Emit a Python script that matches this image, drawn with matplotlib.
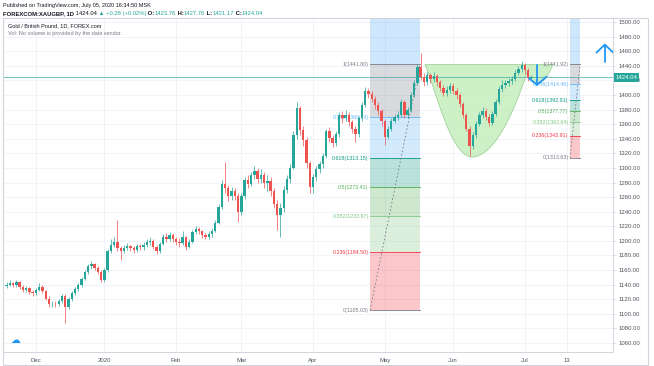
import numpy as np
import matplotlib
matplotlib.use("Agg")
import matplotlib.pyplot as plt
from matplotlib.path import Path
from matplotlib.patches import PathPatch, Rectangle
import matplotlib.transforms as mtransforms

W, H = 654, 366
plt.rcParams['font.family'] = ['Liberation Sans', 'DejaVu Sans']

# ---- daily candles XAUGBP, bar index 0 = 2 Dec 2019 ----
first_idx = -9
first_open = 1138.0
closes = [1140, 1142, 1139, 1143, 1137, 1133, 1135, 1130, 1128,
          1133, 1137, 1131, 1121, 1113, 1114, 1113, 1117, 1124, 1109,
          1120, 1128, 1134, 1139, 1148, 1157, 1165, 1168, 1163, 1158, 1146,
          1160, 1186, 1195, 1198, 1190, 1186, 1190, 1193, 1190, 1188,
          1193, 1191, 1194, 1198, 1200, 1192, 1186, 1196, 1206, 1203,
          1208, 1203, 1199, 1197, 1205, 1192, 1199, 1212, 1216, 1213,
          1208, 1206, 1209, 1214, 1225, 1246, 1278, 1272, 1262, 1268,
          1262, 1240, 1262, 1283, 1278, 1290, 1296, 1285, 1290, 1280,
          1282, 1268, 1250, 1236, 1245, 1270, 1285, 1300, 1345, 1382,
          1352, 1338, 1307, 1274, 1287, 1298, 1305, 1316, 1350, 1341,
          1334, 1346, 1372, 1369, 1373, 1363, 1353, 1346, 1368, 1386,
          1406, 1402, 1395, 1386, 1378, 1364, 1342, 1354, 1365, 1370,
          1373, 1390, 1372, 1379, 1400, 1416, 1438, 1425, 1418, 1427,
          1422, 1426, 1418, 1410, 1403, 1407, 1412, 1406, 1400, 1388,
          1372, 1354, 1330, 1345, 1360, 1372, 1378, 1370, 1362, 1374,
          1390, 1408, 1414, 1416, 1419, 1422, 1430, 1436, 1441, 1434,
          1423.76, 1424.04]
highs = [1143, 1146, 1144, 1147, 1145, 1139, 1138, 1137, 1133,
         1136, 1142, 1139, 1133, 1124, 1117, 1117, 1120, 1127, 1127,
         1123, 1131, 1137, 1142, 1151, 1160, 1168, 1172, 1170, 1166, 1160,
         1163, 1189, 1202, 1206, 1228, 1193, 1194, 1197, 1195, 1193,
         1196, 1196, 1198, 1202, 1205, 1202, 1195, 1199, 1210, 1211,
         1212, 1211, 1206, 1204, 1214, 1207, 1202, 1215, 1220, 1219,
         1215, 1211, 1213, 1218, 1229, 1250, 1283, 1308, 1276, 1274,
         1272, 1265, 1266, 1287, 1290, 1295, 1303, 1300, 1298, 1295,
         1290, 1287, 1272, 1256, 1252, 1275, 1290, 1305, 1350, 1390,
         1385, 1358, 1342, 1310, 1292, 1303, 1310, 1321, 1354, 1356,
         1345, 1350, 1376, 1378, 1379, 1376, 1366, 1357, 1371, 1390,
         1411, 1410, 1405, 1398, 1390, 1381, 1367, 1358, 1368, 1374,
         1378, 1395, 1393, 1383, 1404, 1420, 1443, 1458, 1430, 1432,
         1430, 1431, 1429, 1421, 1414, 1412, 1416, 1416, 1409, 1403,
         1391, 1375, 1357, 1349, 1364, 1376, 1384, 1382, 1374, 1378,
         1394, 1412, 1420, 1420, 1423, 1426, 1434, 1440, 1446, 1444,
         1437, 1427.76]
lows = [1136, 1138, 1137, 1137, 1134, 1130, 1130, 1127, 1125,
        1126, 1131, 1128, 1119, 1110, 1110, 1110, 1111, 1115, 1087,
        1106, 1118, 1126, 1131, 1137, 1146, 1155, 1162, 1160, 1155, 1143,
        1144, 1158, 1184, 1192, 1186, 1174, 1183, 1187, 1186, 1184,
        1185, 1187, 1188, 1191, 1195, 1189, 1182, 1184, 1194, 1199,
        1200, 1199, 1195, 1192, 1194, 1188, 1190, 1197, 1209, 1209,
        1204, 1202, 1203, 1206, 1212, 1223, 1244, 1266, 1255, 1256,
        1256, 1226, 1236, 1258, 1272, 1275, 1285, 1280, 1280, 1273,
        1268, 1262, 1245, 1215, 1205, 1240, 1265, 1280, 1298, 1340,
        1345, 1330, 1300, 1266, 1265, 1282, 1293, 1300, 1313, 1336,
        1328, 1330, 1343, 1362, 1364, 1358, 1348, 1335, 1343, 1365,
        1383, 1396, 1390, 1381, 1372, 1358, 1331, 1339, 1350, 1361,
        1366, 1370, 1368, 1369, 1376, 1397, 1413, 1420, 1412, 1414,
        1416, 1418, 1412, 1405, 1398, 1399, 1403, 1401, 1395, 1384,
        1368, 1350, 1316, 1326, 1341, 1357, 1368, 1366, 1357, 1359,
        1371, 1387, 1404, 1410, 1412, 1415, 1419, 1427, 1432, 1429,
        1419, 1421.17]

last_price = 1424.04

# time axis
tick_pos = [0, 21, 43, 63, 85, 107, 128, 150, 163]
tick_lab = ['Dec', '2020', 'Feb', 'Mar', 'Apr', 'May', 'Jun', 'Jul', '13']
price_ticks = list(range(1060, 1501, 20))

# fibonacci retracements (levels, prices as labelled)
fib_levels = ['1', '0.786', '0.618', '0.5', '0.382', '0.236', '0']
fib_colors = ['#787b86', '#64b5f6', '#089981', '#4caf50', '#81c784', '#f23645', '#787b86']
fib_left = [1441.80, 1369.73, 1313.15, 1273.41, 1233.67, 1184.50, 1105.03]
fib_right = [1441.92, 1414.46, 1392.91, 1377.77, 1362.64, 1343.91, 1313.63]
left_span = (102.5, 117.8)
right_span = (163.8, 166.9)

opens = [first_open] + closes[:-1]
idx = np.arange(first_idx, first_idx + len(closes))

fig = plt.figure(figsize=(W / 100, H / 100), dpi=100)
ax = fig.add_axes([3 / W, 14 / H, 610 / W, 334 / H])
ax.set_xlim(-10.1, 177.0)
ax.set_ylim(1047.7, 1505.5)

# grid
for p in price_ticks:
    ax.axhline(p, color='#eef1f6', lw=0.6, zorder=0)
for t in tick_pos:
    ax.axvline(t, color='#eef1f6', lw=0.6, zorder=0)

# fib zones
def draw_fib(span, prices, labels=True):
    x0, x1 = span
    ax.add_patch(Rectangle((x0, prices[0]), x1 - x0, 1600 - prices[0],
                           color='#2196f3', alpha=0.22, lw=0, zorder=1))
    for k in range(len(prices) - 1):
        ax.add_patch(Rectangle((x0, prices[k + 1]), x1 - x0, prices[k] - prices[k + 1],
                               color=fib_colors[k], alpha=0.28, lw=0, zorder=1))
    for k, p in enumerate(prices):
        ax.plot([x0, x1], [p, p], color=fib_colors[k], lw=0.6, zorder=2)
        if labels:
            ax.text(x0 - 0.5, p, f"{fib_levels[k]}({p:.2f})", color=fib_colors[k],
                    fontsize=3.8, ha='right', va='center', zorder=2)
    ax.plot([x0, x1], [prices[-1], prices[0]], color='#787b86', lw=0.6,
            ls=(0, (2, 2.5)), zorder=2)

draw_fib(left_span, fib_left)
draw_fib(right_span, fib_right)

# cup drawing
cup_top = fib_right[0]
verts = [(119.3, cup_top), (122.5, 1410), (127, 1318), (133.5, 1315),
         (139.5, 1313), (146, 1365), (150.5, 1430),
         (152.3, 1410), (155.5, 1408), (158.6, cup_top), (119.3, cup_top)]
codes = [Path.MOVETO] + [Path.CURVE4] * 9 + [Path.CLOSEPOLY]
ax.add_patch(PathPatch(Path(verts, codes), facecolor='#bdebb3', edgecolor='#8cc684',
                       alpha=0.75, lw=0.6, zorder=1))

# candles
up_c, dn_c = '#26a69a', '#ef5350'
for i, o, h, l, c in zip(idx, opens, highs, lows, closes):
    col = up_c if c >= o else dn_c
    ax.plot([i, i], [l, h], color=col, lw=0.5, zorder=3, solid_capstyle='butt')
    ax.bar(i, max(abs(c - o), 0.8), bottom=min(o, c), width=0.72, color=col, lw=0, zorder=3)

# last price line
ax.axhline(last_price, color='#26a69a', lw=0.6, alpha=0.75, zorder=2)

# arrows
blue = '#2196f3'
ax.plot([174.5, 174.5], [1445, 1469], color=blue, lw=1.3, zorder=5, solid_capstyle='round')
ax.plot([171.9, 174.5, 177.1], [1458, 1469, 1458], color=blue, lw=1.3, zorder=5,
        solid_capstyle='round')
ax.plot([153.7, 153.7], [1441, 1414], color=blue, lw=1.3, zorder=5, solid_capstyle='round')
ax.plot([151.2, 153.7, 156.6], [1423, 1414, 1425], color=blue, lw=1.3, zorder=5,
        solid_capstyle='round')

# axes styling
ax.yaxis.tick_right()
ax.set_yticks(price_ticks)
ax.set_yticklabels([f"{p:.2f}" for p in price_ticks])
ax.tick_params(axis='y', length=2, width=0.5, pad=2, labelsize=4.3,
               colors='#d1d4dc', labelcolor='#50535e')
ax.set_xticks(tick_pos)
ax.set_xticklabels(tick_lab)
ax.tick_params(axis='x', length=0, pad=4, labelsize=4.3, labelcolor='#50535e')
for s in ax.spines.values():
    s.set_color('#d1d4dc')
    s.set_linewidth(0.7)

trans = mtransforms.blended_transform_factory(ax.transAxes, ax.transData)
ax.text(1.004, last_price, f"{last_price:.2f}", transform=trans, fontsize=4.3,
        color='white', ha='left', va='center', clip_on=False,
        bbox=dict(boxstyle='square,pad=0.3', fc='#26a69a', ec='none'))

# outer frame
fig.add_artist(Rectangle((3 / W, 1 / H), 645 / W, 347 / H, transform=fig.transFigure,
                         fill=False, ec='#d1d4dc', lw=0.8))

# legend texts inside pane
ax.text(0.008, 0.985, 'Gold / British Pound, 1D, FOREX.com', transform=ax.transAxes,
        fontsize=4.0, color='#131722', ha='left', va='top')
ax.text(0.008, 0.96, 'Vol: No volume is provided by the data vendor.', transform=ax.transAxes,
        fontsize=4.0, color='#787b86', ha='left', va='top')
ax.text(12 / 610, 0.035, '\u2601', transform=ax.transAxes, fontsize=7, color=blue,
        family='DejaVu Sans', ha='center', va='center')

# header
fig.text(3 / W, 1 - 5 / H, 'Published on TradingView.com, July 05, 2020 16:34:50 MSK',
         fontsize=4.0, color='#131722', ha='left', va='center')
renderer = fig.canvas.get_renderer()
parts = [('FOREXCOM:XAUGBP, 1D', '#131722', 'bold'), (' 1424.04', '#131722', 'normal'),
         (' \u25b2 +0.28 (+0.02%)', '#26a69a', 'normal'),
         (' O:', '#131722', 'bold'), ('1423.76', '#26a69a', 'normal'),
         (' H:', '#131722', 'bold'), ('1427.76', '#26a69a', 'normal'),
         (' L:', '#131722', 'bold'), ('1421.17', '#26a69a', 'normal'),
         (' C:', '#131722', 'bold'), ('1424.04', '#26a69a', 'normal')]
xpos = 3
for s, col, wt in parts:
    t = fig.text(xpos / W, 1 - 13.5 / H, s, fontsize=4.2, color=col, fontweight=wt,
                 ha='left', va='center')
    xpos = t.get_window_extent(renderer).x1

fig.savefig('out.png', dpi=100)
